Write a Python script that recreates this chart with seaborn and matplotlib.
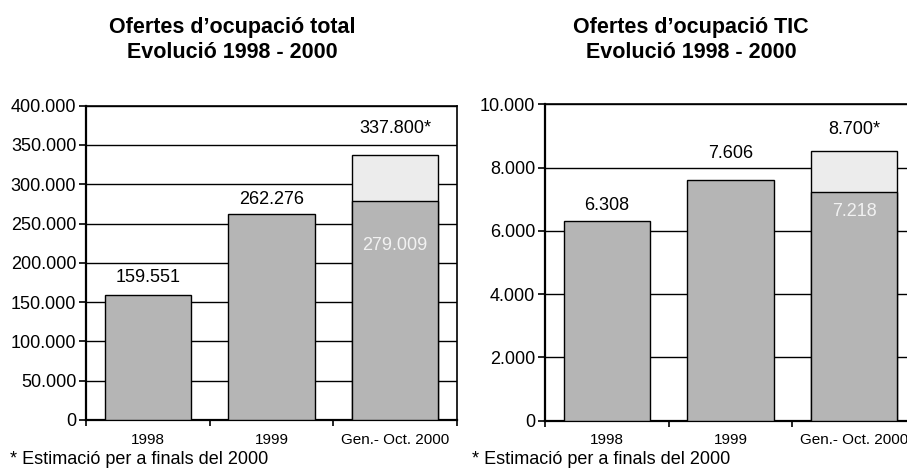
import numpy as np
import pandas as pd
import matplotlib
matplotlib.use("Agg")
import matplotlib.pyplot as plt
import seaborn as sns

# dades llegides del grafic
categories = ["1998", "1999", "Gen.- Oct. 2000"]
total_valors = [159551, 262276, 279009]
total_estimacio = 337800
tic_valors = [6308, 7606, 7218]
tic_estimacio = 8700
tic_estimacio_barra = 8510   # la barra dibuixada no arriba fins a 8.700

total_yticks = [0, 50000, 100000, 150000, 200000, 250000, 300000, 350000, 400000]
tic_yticks = [0, 2000, 4000, 6000, 8000, 10000]

titols = [("Ofertes d\u2019ocupació total", "Evolució 1998 - 2000"),
          ("Ofertes d\u2019ocupació TIC", "Evolució 1998 - 2000")]
nota = "* Estimació per a finals del 2000"

sns.set_style("white")
plt.rcParams["font.family"] = ["Liberation Sans", "DejaVu Sans"]
plt.rcParams["text.color"] = "black"
plt.rcParams["xtick.color"] = "black"
plt.rcParams["ytick.color"] = "black"

GRIS = "#b5b5b5"
GRIS_CLAR = "#ececec"


def miles(v):
    return f"{v:,.0f}".replace(",", ".")


def dibuixa(ax, valors, est_barra, est_text, yticks, desp_sobre, desp_dins, desp_est):
    df = pd.DataFrame({"cat": categories, "valor": valors})
    df_est = pd.DataFrame({"cat": [categories[-1]], "valor": [est_barra]})
    sns.barplot(data=df_est, x="cat", y="valor", order=categories, color=GRIS_CLAR,
                saturation=1, width=0.7, edgecolor="black", linewidth=1, ax=ax, zorder=2)
    sns.barplot(data=df, x="cat", y="valor", order=categories, color=GRIS,
                saturation=1, width=0.7, edgecolor="black", linewidth=1, ax=ax, zorder=3)

    ax.set_xlim(-0.5, 2.5)
    ax.set_ylim(yticks[0], yticks[-1])
    ax.set_yticks(yticks)
    ax.set_yticklabels([miles(t) for t in yticks], fontsize=13)
    ax.set_xticks([-0.5, 0.5, 1.5, 2.5])
    ax.set_xticklabels([])
    ax.set_xticks([0, 1, 2], minor=True)
    ax.set_xticklabels(categories, minor=True, fontsize=11)
    ax.tick_params(axis="x", which="major", bottom=True, length=4, width=1.2,
                   color="black", direction="out")
    ax.tick_params(axis="x", which="minor", bottom=True, length=0, pad=9)
    ax.tick_params(axis="y", left=True, length=5, width=1.2, color="black",
                   direction="out", pad=2)
    ax.set_xlabel("")
    ax.set_ylabel("")
    ax.set_axisbelow(True)
    ax.yaxis.grid(True, color="black", linewidth=1)
    for s in ["top", "right"]:
        ax.spines[s].set_visible(True)
        ax.spines[s].set_linewidth(1.2)
        ax.spines[s].set_color("black")
    for s in ["left", "bottom"]:
        ax.spines[s].set_linewidth(1.6)
        ax.spines[s].set_color("black")

    # etiquetes sobre les barres
    for i, v in enumerate(valors[:-1]):
        ax.annotate(miles(v), (i, v), xytext=(0, desp_sobre[i]), textcoords="offset points",
                    ha="center", va="bottom", fontsize=13)
    ax.annotate(miles(valors[-1]), (2, valors[-1]), xytext=(0, -desp_dins),
                textcoords="offset points", ha="center", va="top", fontsize=13, color="#f2f2f2",
                zorder=5)
    ax.annotate(miles(est_text) + "*", (2, est_barra), xytext=(0, desp_est),
                textcoords="offset points", ha="center", va="bottom", fontsize=13)


fig = plt.figure(figsize=(9.07, 4.75), dpi=100)
ax1 = fig.add_axes([86 / 907, 55 / 475, 371 / 907, 314.3 / 475])
ax2 = fig.add_axes([545 / 907, 54.3 / 475, 371 / 907, 316.4 / 475])

dibuixa(ax1, total_valors, total_estimacio, total_estimacio, total_yticks,
        [6, 4], 26, 13)
dibuixa(ax2, tic_valors, tic_estimacio_barra, tic_estimacio, tic_yticks,
        [5, 13], 8, 10)

for cx, (l1, l2) in zip([232, 691], titols):
    fig.text(cx / 907, 1 - 33 / 475, l1, ha="center", va="baseline",
             fontsize=15.5, fontweight="bold")
    fig.text(cx / 907, 1 - 58 / 475, l2, ha="center", va="baseline",
             fontsize=15.5, fontweight="bold")

for x0 in [10, 472]:
    fig.text(x0 / 907, 1 - 464 / 475, nota, ha="left", va="baseline", fontsize=13)

fig.savefig("out.png", dpi=100)
